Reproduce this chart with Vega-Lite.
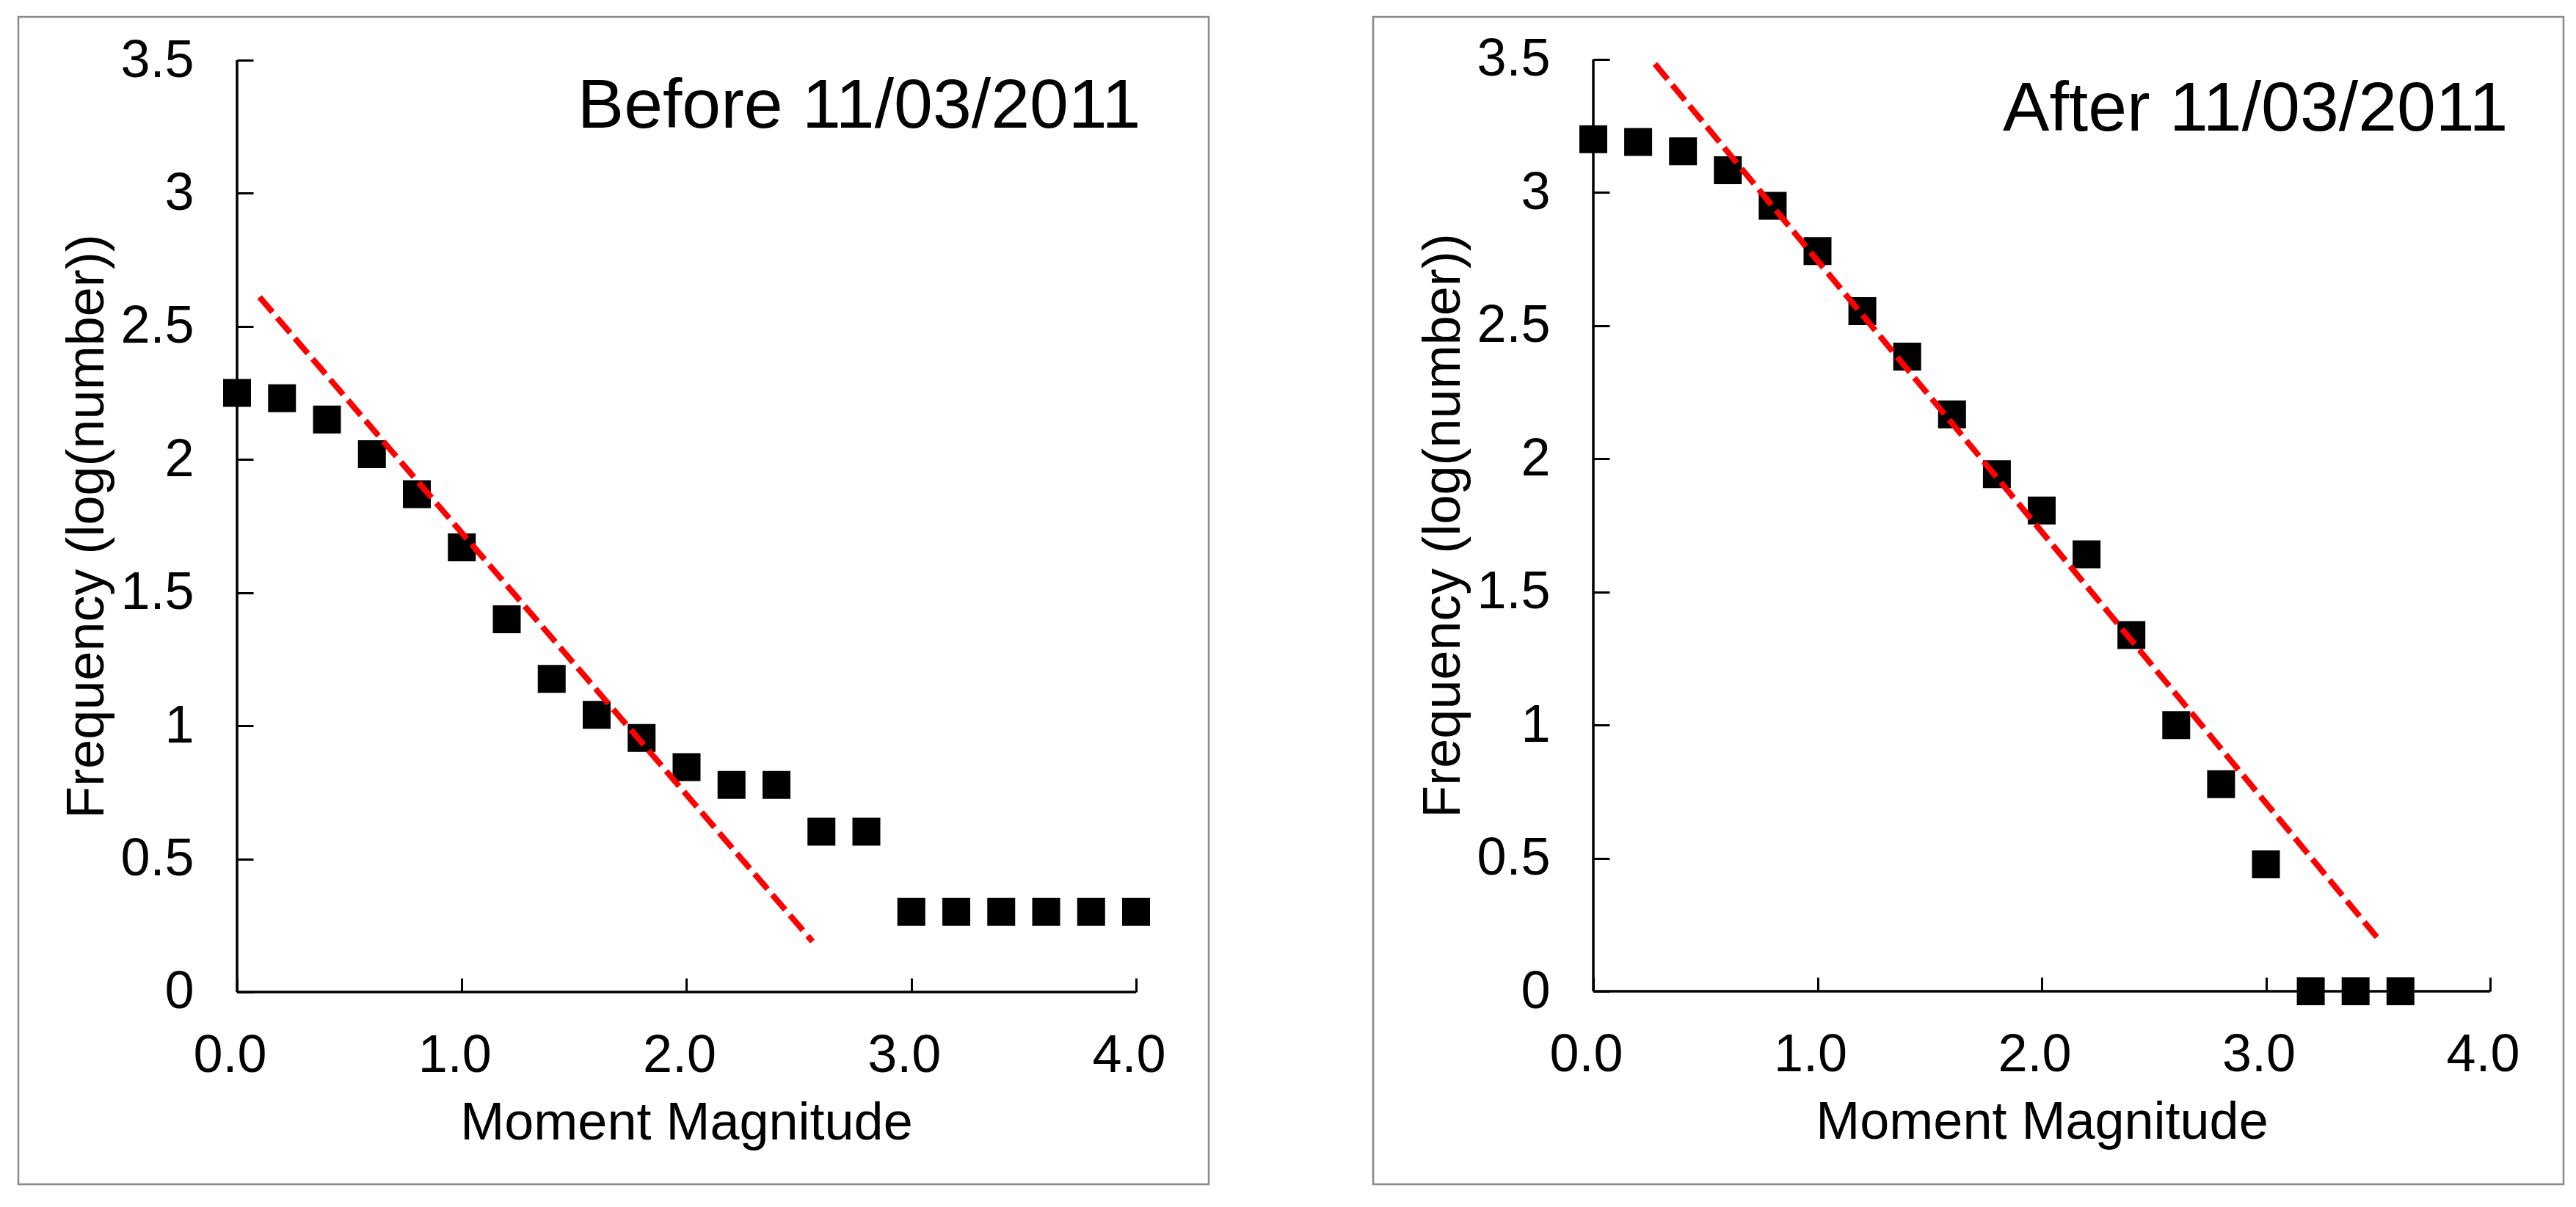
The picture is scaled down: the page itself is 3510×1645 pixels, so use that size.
{
  "$schema": "https://vega.github.io/schema/vega-lite/v6.json",
  "background": "white",
  "padding": {"left": 23, "top": 21, "right": 0, "bottom": 0},
  "config": {
    "font": "Liberation Sans",
    "view": {"stroke": "#898989", "strokeWidth": 2.5},
    "axis": {"grid": false, "labelColor": "black", "titleColor": "black", "tickColor": "black", "titleFontWeight": "normal"}
  },
  "datasets": {
    "before": [
      {"magnitude": 0.0, "logn": 2.25},
      {"magnitude": 0.2, "logn": 2.23},
      {"magnitude": 0.4, "logn": 2.15},
      {"magnitude": 0.6, "logn": 2.02},
      {"magnitude": 0.8, "logn": 1.87},
      {"magnitude": 1.0, "logn": 1.67},
      {"magnitude": 1.2, "logn": 1.40},
      {"magnitude": 1.4, "logn": 1.176},
      {"magnitude": 1.6, "logn": 1.041},
      {"magnitude": 1.8, "logn": 0.954},
      {"magnitude": 2.0, "logn": 0.845},
      {"magnitude": 2.2, "logn": 0.778},
      {"magnitude": 2.4, "logn": 0.778},
      {"magnitude": 2.6, "logn": 0.602},
      {"magnitude": 2.8, "logn": 0.602},
      {"magnitude": 3.0, "logn": 0.301},
      {"magnitude": 3.2, "logn": 0.301},
      {"magnitude": 3.4, "logn": 0.301},
      {"magnitude": 3.6, "logn": 0.301},
      {"magnitude": 3.8, "logn": 0.301},
      {"magnitude": 4.0, "logn": 0.301}
    ],
    "after": [
      {"magnitude": 0.0, "logn": 3.20},
      {"magnitude": 0.2, "logn": 3.19},
      {"magnitude": 0.4, "logn": 3.155},
      {"magnitude": 0.6, "logn": 3.084},
      {"magnitude": 0.8, "logn": 2.95},
      {"magnitude": 1.0, "logn": 2.78},
      {"magnitude": 1.2, "logn": 2.555},
      {"magnitude": 1.4, "logn": 2.384},
      {"magnitude": 1.6, "logn": 2.167},
      {"magnitude": 1.8, "logn": 1.942},
      {"magnitude": 2.0, "logn": 1.806},
      {"magnitude": 2.2, "logn": 1.641},
      {"magnitude": 2.4, "logn": 1.338},
      {"magnitude": 2.6, "logn": 1.0},
      {"magnitude": 2.8, "logn": 0.778},
      {"magnitude": 3.0, "logn": 0.477},
      {"magnitude": 3.2, "logn": 0},
      {"magnitude": 3.4, "logn": 0},
      {"magnitude": 3.6, "logn": 0}
    ],
    "fit_before": [
      {"magnitude": 0.1, "logn": 2.61},
      {"magnitude": 2.56, "logn": 0.19}
    ],
    "fit_after": [
      {"magnitude": 0.275, "logn": 3.483},
      {"magnitude": 3.5, "logn": 0.198}
    ]
  },
  "spacing": 220,
  "hconcat": [
    {
      "width": 1622,
      "height": 1591,
      "layer": [
        {
          "data": {"values": [{}]},
          "mark": {"type": "rule", "color": "black", "strokeWidth": 3.5},
          "encoding": {"x": {"datum": 0}, "x2": {"datum": 4}, "y": {"datum": 0}}
        },
        {
          "data": {"values": [{}]},
          "mark": {"type": "rule", "color": "black", "strokeWidth": 3.5},
          "encoding": {"x": {"datum": 0}, "y": {"datum": 0}, "y2": {"datum": 3.5}}
        },
        {
          "data": {"name": "before"},
          "mark": {"type": "square", "size": 1444, "color": "black", "opacity": 1, "filled": true},
          "encoding": {
            "x": {
              "field": "magnitude", "type": "quantitative",
              "scale": {"domain": [-0.97306, 4.32327], "nice": false, "zero": false},
              "axis": {
                "orient": "bottom", "offset": -262, "values": [0, 1, 2, 3, 4], "format": ".1f",
                "domain": false, "tickSize": -19, "tickWidth": 3,
                "labelFontSize": 72, "labelPadding": 70, "labelOffset": -10,
                "title": "Moment Magnitude", "titleFontSize": 72,
                "titleX": 910, "titleY": 200, "titleBaseline": "alphabetic", "titleAlign": "center"
              }
            },
            "y": {
              "field": "logn", "type": "quantitative",
              "scale": {"domain": [-0.72205, 3.6626], "nice": false, "zero": false},
              "axis": {
                "orient": "left", "offset": -298, "values": [0, 0.5, 1, 1.5, 2, 2.5, 3, 3.5], "format": "~g",
                "domain": false, "tickSize": -22, "tickWidth": 3,
                "labelFontSize": 72, "labelPadding": 81, "labelBaseline": "middle",
                "title": "Frequency (log(number))", "titleFontSize": 72,
                "titleX": -183, "titleY": 694, "titleAngle": 270, "titleBaseline": "alphabetic", "titleAlign": "center"
              }
            }
          }
        },
        {
          "data": {"name": "fit_before"},
          "mark": {"type": "line", "color": "#ff0000", "strokeWidth": 8, "strokeDash": [27, 10], "strokeCap": "butt"},
          "encoding": {
            "x": {"field": "magnitude", "type": "quantitative"},
            "y": {"field": "logn", "type": "quantitative"}
          }
        },
        {
          "data": {"values": [{"label": "Before 11/03/2011"}]},
          "mark": {"type": "text", "align": "right", "baseline": "alphabetic", "fontSize": 95, "color": "black"},
          "encoding": {
            "x": {"datum": 4.021},
            "y": {"datum": 3.246},
            "text": {"field": "label"}
          }
        }
      ]
    },
    {
      "width": 1622,
      "height": 1591,
      "layer": [
        {
          "data": {"values": [{}]},
          "mark": {"type": "rule", "color": "black", "strokeWidth": 3.5},
          "encoding": {"x": {"datum": 0}, "x2": {"datum": 4}, "y": {"datum": 0}}
        },
        {
          "data": {"values": [{}]},
          "mark": {"type": "rule", "color": "black", "strokeWidth": 3.5},
          "encoding": {"x": {"datum": 0}, "y": {"datum": 0}, "y2": {"datum": 3.5}}
        },
        {
          "data": {"name": "after"},
          "mark": {"type": "square", "size": 1444, "color": "black", "opacity": 1, "filled": true},
          "encoding": {
            "x": {
              "field": "magnitude", "type": "quantitative",
              "scale": {"domain": [-0.982, 4.32733], "nice": false, "zero": false},
              "axis": {
                "orient": "bottom", "offset": -263, "values": [0, 1, 2, 3, 4], "format": ".1f",
                "domain": false, "tickSize": -19, "tickWidth": 3,
                "labelFontSize": 72, "labelPadding": 70, "labelOffset": -10,
                "title": "Moment Magnitude", "titleFontSize": 72,
                "titleX": 911, "titleY": 200, "titleBaseline": "alphabetic", "titleAlign": "center"
              }
            },
            "y": {
              "field": "logn", "type": "quantitative",
              "scale": {"domain": [-0.7248, 3.65984], "nice": false, "zero": false},
              "axis": {
                "orient": "left", "offset": -300, "values": [0, 0.5, 1, 1.5, 2, 2.5, 3, 3.5], "format": "~g",
                "domain": false, "tickSize": -22, "tickWidth": 3,
                "labelFontSize": 72, "labelPadding": 81, "labelBaseline": "middle",
                "title": "Frequency (log(number))", "titleFontSize": 72,
                "titleX": -183, "titleY": 693, "titleAngle": 270, "titleBaseline": "alphabetic", "titleAlign": "center"
              }
            }
          }
        },
        {
          "data": {"name": "fit_after"},
          "mark": {"type": "line", "color": "#ff0000", "strokeWidth": 8, "strokeDash": [27, 10], "strokeCap": "butt"},
          "encoding": {
            "x": {"field": "magnitude", "type": "quantitative"},
            "y": {"field": "logn", "type": "quantitative"}
          }
        },
        {
          "data": {"values": [{"label": "After 11/03/2011"}]},
          "mark": {"type": "text", "align": "right", "baseline": "alphabetic", "fontSize": 95, "color": "black"},
          "encoding": {
            "x": {"datum": 4.08},
            "y": {"datum": 3.233},
            "text": {"field": "label"}
          }
        }
      ]
    }
  ]
}
